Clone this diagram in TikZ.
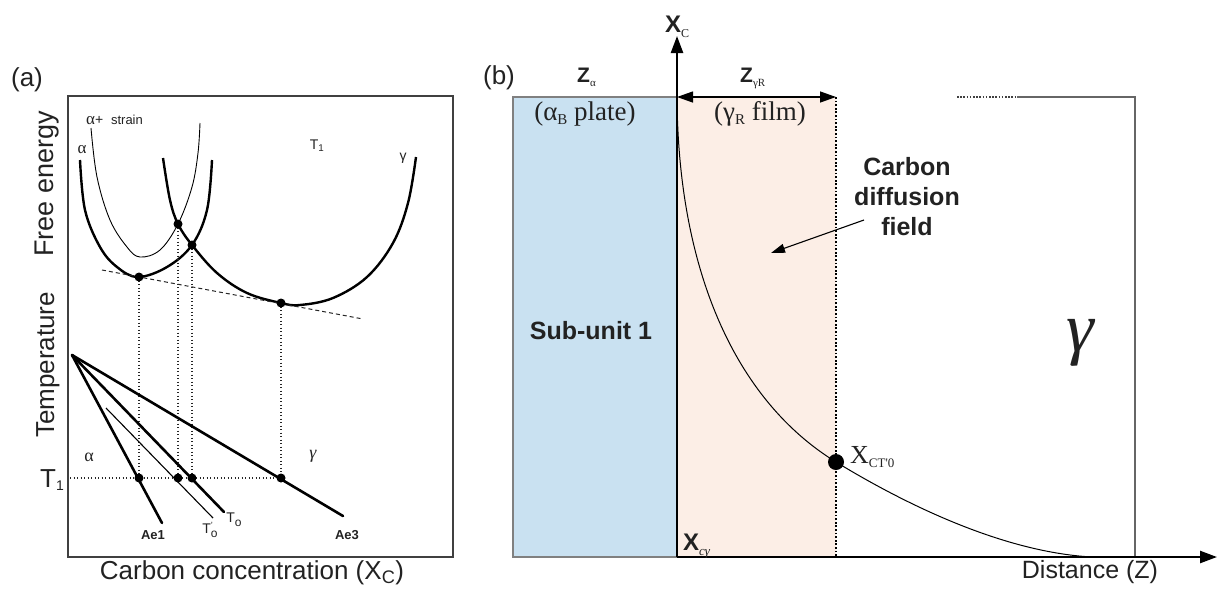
\documentclass[tikz,border=0pt]{standalone}
\usepackage{fontspec}
\setmainfont{Liberation Sans}
\newfontfamily\serif{Liberation Serif}
\usetikzlibrary{arrows.meta}
\newcommand{\fsz}[1]{\fontsize{#1}{#1}\selectfont}
\definecolor{bluef}{RGB}{201,225,241}
\definecolor{pinkf}{RGB}{252,238,230}
\definecolor{ink}{RGB}{34,34,34}
\begin{document}
\begin{tikzpicture}[x=1pt,y=-1pt,
  txt/.style={inner sep=0pt, text=ink},
  thkcurve/.style={line width=2.4pt, black, line join=round},
  thncurve/.style={line width=0.9pt, black},
  dotln/.style={line width=1.3pt, black!85, dash pattern=on 1.3pt off 2.2pt},
  dashln/.style={line width=1pt, black!85, dash pattern=on 4pt off 3pt},
  tline/.style={line width=2.6pt, black},
  bigdot/.style={fill=black}]
\useasboundingbox (0,0) rectangle (1218,592);

% ---------------- panel (a) ----------------
\node[txt] (la) at (27,80) {\fsz{26}(a)};
\draw[line width=1.3pt, black!75] (68,96) rectangle (453,557);
\node[txt, rotate=90] (fe) at (47,184) {\fsz{27}Free energy};
\node[txt, rotate=90] (temp) at (48,365) {\fsz{26}Temperature};
\node[txt] (cc) at (252,573) {\fsz{26}Carbon concentration (X\textsubscript{C})};

% free energy curves
\draw[thkcurve] plot[smooth, tension=0.6] coordinates {(80,160) (85,210) (100,247) (117,267) (138,277) (167,267) (192,245) (207,210) (212,160)};
\draw[thncurve] plot[smooth, tension=0.6] coordinates {(91,128) (97,177) (110,220) (127,247) (140,257) (160,250) (178,224) (192,187) (198,153) (200,123)};
\draw[thkcurve] plot[smooth, tension=0.6] coordinates {(163,158) (170,200) (178,224) (192,245) (217,273) (247,293) (281,303) (300,305) (333,298) (367,277) (393,243) (408,203) (416,157)};

\coordinate (pa) at (139,277);
\coordinate (pb) at (178,224);
\coordinate (pc) at (192,245);
\coordinate (pd) at (281,303);
\coordinate (tl0) at (102,270);
\coordinate (tl1) at (363,319);
\draw[dashln] (tl0) -- (tl1);

\coordinate (qa) at (139,478);
\coordinate (qb) at (178,478);
\coordinate (qc) at (192,478);
\coordinate (qd) at (281,478);
\coordinate (tleft) at (70,478);
\draw[dotln] (pa) -- (qa);
\draw[dotln] (pb) -- (qb);
\draw[dotln] (pc) -- (qc);
\draw[dotln] (pd) -- (qd);
\draw[dotln] (tleft) -- (qd);

% temperature lines
\coordinate (apex) at (72,355);
\coordinate (ae1) at (162,523);
\coordinate (t0) at (224,512);
\coordinate (ae3) at (343,516);
\coordinate (t0p0) at (106,408);
\coordinate (t0p1) at (213,518);
\draw[tline, line cap=round] (apex) -- (ae1);
\draw[tline, line cap=round] (apex) -- (t0);
\draw[tline, line cap=round] (apex) -- (ae3);
\draw[line width=1.1pt] (t0p0) -- (t0p1);

\foreach \p in {pa,pb,pc,pd,qa,qb,qc,qd} \fill[bigdot] (\p) circle (4.5pt);

% labels (a)
\node[txt] (lalpha) at (82,150) {\fsz{17}\serif α};
\node[txt, anchor=base west] (lstrain) at (86,124) {\fsz{17}\serif α\fsz{14}\sffamily\normalfont+~~\fsz{13}strain};
\node[txt] (lT1top) at (317,146) {\fsz{14}T\textsubscript{1}};
\node[txt] (lgamtop) at (403,158) {\fsz{14}γ};
\node[txt] (lalow) at (89,457) {\fsz{18}\serif α};
\node[txt] (lglow) at (313,456) {\fsz{18}\serif\itshape γ};
\node[txt, anchor=base west] (lT1) at (40,487) {\fsz{26}T\raisebox{-0.25ex}{\fsz{14}1}};
\node[txt] (lae1) at (153,535) {\fsz{13}\bfseries Ae1};
\node[txt] (lae3) at (347,535) {\fsz{13}\bfseries Ae3};
\node[txt] (lt0p) at (210,530) {\fsz{14}T\rlap{\raisebox{0.6ex}{\fsz{9}'}}\raisebox{-0.6ex}{\fsz{12}o}};
\node[txt] (lt0) at (234,520) {\fsz{14}T\raisebox{-0.6ex}{\fsz{12}o}};

% ---------------- panel (b) ----------------
\node[txt] (lb) at (499,78) {\fsz{26}(b)};
\fill[bluef] (513,97) rectangle (677,557);
\draw[line width=1.1pt, black!50] (677,97) -- (513,97) -- (513,557) -- (677,557);
\fill[pinkf] (677,97) rectangle (836,557);

\coordinate (O) at (677,557);
\coordinate (Ytop) at (677,36);
\coordinate (Xend) at (1217,557);
\coordinate (Ztop) at (677,97);
\coordinate (Zr) at (836,97);
\coordinate (Zrb) at (836,557);

\draw[line width=1.8pt, black, dash pattern=on 1.8pt off 1.8pt] (Zr) -- (Zrb);

% right gamma frame
\coordinate (fr0) at (957,97);
\coordinate (fr1) at (1017,97);
\coordinate (fr2) at (1135,97);
\coordinate (fr3) at (1135,557);
\draw[line width=1.5pt, black!75, dash pattern=on 1.6pt off 1.6pt] (fr0) -- (fr1);
\draw[line width=1.4pt, black!60] (fr1) -- (fr2) -- (fr3);

% diffusion curve
\coordinate (dotb) at (836,462);
\coordinate (cend) at (1092,557);
\draw[line width=1pt, black] (Ztop) .. controls (678,270) and (735,400) .. (dotb)
   .. controls (900,501) and (1000,552) .. (cend);
\fill[bigdot] (dotb) circle (8pt);

% axes
\draw[line width=2.4pt, -{Triangle[length=17pt,width=12pt]}] (O) -- (Ytop);
\draw[line width=2.4pt, -{Triangle[length=17pt,width=12pt]}] (O) -- (Xend);
\draw[line width=1.3pt, {Triangle[length=16pt,width=11pt]}-{Triangle[length=16pt,width=11pt]}] (Ztop) -- (Zr);

% labels (b)
\node[txt, anchor=base west] (lxc) at (665,32) {\fsz{24}\bfseries X\raisebox{-0.4ex}{\serif\mdseries\fsz{12}C}};
\node[txt, anchor=base west] (lza) at (577,82) {\fsz{21}\bfseries Z\raisebox{-0.4ex}{\serif\mdseries\fsz{11}α}};
\node[txt, anchor=base west] (lzg) at (740,82) {\fsz{21}\bfseries Z\raisebox{-0.4ex}{\serif\mdseries\fsz{11}γR}};
\node[txt, anchor=base] (lplate) at (585,120) {\serif\fsz{27}(α\raisebox{-0.35ex}{\fsz{15}B} plate)};
\node[txt, anchor=base] (lfilm) at (760,120) {\serif\fsz{27}(γ\raisebox{-0.35ex}{\fsz{15}R} film)};
\node[txt] (lsub) at (591,331) {\fsz{25}\bfseries Sub-unit 1};
\node[txt, align=center, font=\fontsize{25}{30}\selectfont\bfseries] (lcdf) at (907,197) {Carbon\\diffusion\\field};
\coordinate (ca0) at (864,220);
\coordinate (ca1) at (771,253);
\draw[line width=1.1pt, -{Triangle[length=14pt,width=9pt]}] (ca0) -- (ca1);
\node[txt, anchor=base] (lgbig) at (1080,351) {\serif\itshape\fsz{70}γ};
\node[txt, anchor=base west] (lxct) at (850,463) {\serif\fsz{26}X\raisebox{-0.4ex}{\fsz{13}CT\textquotesingle0}};
\node[txt, anchor=base west] (lxcg) at (683,550) {\fsz{24}\bfseries X\raisebox{-0.4ex}{\serif\mdseries\itshape\fsz{13}cγ}};
\node[txt] (ldist) at (1090,572) {\fsz{25}Distance (Z)};
\end{tikzpicture}
\end{document}
